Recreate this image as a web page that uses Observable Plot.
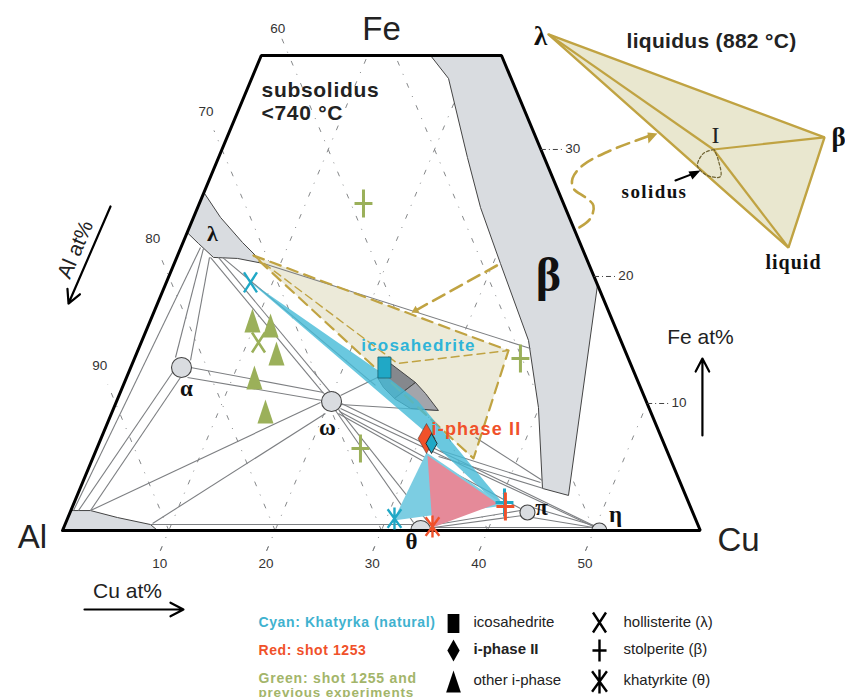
<!DOCTYPE html>
<html><head><meta charset="utf-8">
<script src="https://cdn.jsdelivr.net/npm/d3@7"></script>
<script src="https://cdn.jsdelivr.net/npm/@observablehq/plot@0.6"></script>
<style>html,body{margin:0;padding:0;background:#fff;overflow:hidden}svg{display:block}</style>
</head><body><div id="chart"></div>
<script>
// All compositions are [Cu at%, Fe at%]
const frame = [[0,0],[0,37.4],[22.6,37.4],[60,0],[0,0]];
const betaField = [[15.92,37.4],[18.52,35.59],[23.41,29.37],[26.61,25.43],[30.69,21.02],[36.36,14.96],[39.93,9.69],[43.5,3.31],[46.22,2.76],[40.68,19.29],[22.6,37.4]];
const lambdaField = [[0,26.61],[2.54,24.65],[5.59,22.68],[8.4,21.02],[5.75,21.42],[3.45,21.5],[1.49,22.6],[0,23.46]];
const alField = [[0,0],[0,1.57],[1.85,1.57],[4.66,1.02],[8.04,0.47],[8.94,0]];
const icoDark = [[24.28,13.15],[27.38,11.65],[26.03,10.39],[24.57,11.26],[23.6,12.05]];
const icoLight = [[27.38,11.65],[28.75,10.79],[30.64,9.45],[27.93,9.61],[26.03,10.39]];
const solidusTri = [[7.14,21.65],[34.87,14.17],[35.83,5.67]];
const solidusInner = [[7.14,21.65],[24.94,13.15],[34.87,14.17]];
const cyanBand = [[7.65,19.69],[24.28,12.2],[28.28,10.24],[40.02,2.36],[39.63,2.2],[32.01,6.54],[30.03,7.87]];
const cyanLow = [[31.17,6.14],[30.74,0.79],[40.6,1.97]];
const redTri = [[31.38,5.91],[34.69,0.24],[39.86,2.13]];
const ties = [
 [[0.25,1.57],[1.84,22.28]],[[2.16,22.2],[3.82,13.62]],[[3.08,21.5],[5.35,13.39]],
 [[4.13,12.44],[0.72,1.57]],[[5.07,12.05],[1.85,1.57]],[[5.63,12.83],[19.12,10.87]],
 [[5.73,12.05],[19.34,10.24]],[[1.85,1.57],[19.23,10.08]],[[8.2,0.55],[20.13,9.21]],
 [[3.17,21.5],[19.16,10.79]],[[3.92,21.5],[19.78,10.87]],[[4.3,21.5],[23.73,11.42]],
 [[20.84,10.63],[23.6,12.05]],[[21.19,9.92],[30.55,9.45]],[[21.25,10],[49.98,0.31]],
 [[21.35,9.61],[50.02,0.24]],[[21.37,9.37],[42.22,1.73]],[[21.35,9.21],[39.95,2.13]],
 [[20.96,9.45],[32.7,0.63]],[[21.2,9.53],[33.98,0.71]],[[34.42,0.39],[42.3,1.57]],
 [[34.78,0.24],[42.68,1.18]],[[34.5,0.24],[49.74,0.24]],[[43.31,1.81],[49.76,0.39]],
 [[43.7,1.02],[49.83,0.24]],[[43.08,3.78],[32.41,6.3]],[[43.59,3.31],[32.46,5.83]],
 [[43.18,3.94],[35.19,7.32]],[[8.4,21.02],[36.86,14.33]],[[8.04,0.47],[32.69,0.47]]
];
const phaseCircles = [[4.78,12.83,10],[20.23,10.16,10],[33.7,0,10],[43.03,1.42,7.5],[50.5,0,7.5]];
const cuTicks = [10,20,30,40,50];
const alTicks = [90,80,70,60];
const feTicks = [10,20,30];
const greenTriangles = [[9.6,16.54],[11.5,16.14],[13.16,13.94],[12.03,12.05],[14.41,9.37]];
const greenPlus = [[15.44,25.75],[36.31,13.54],[24.8,6.46]];
const greenX = [[11.04,14.8]];
const cyanX = [[7.92,19.53]];
const icosahedrite = [[23.87,12.83]];
const iPhaseRed = [[30.62,7.24]];
const iPhaseCyan = [[31.29,6.85]];
const stolperiteCyan = [[40.48,2.2]];
const stolperiteRed = [[40.72,1.89]];
const khatyrkiteCyan = [[30.76,0.94]];
const khatyrkiteRed = [[34.65,0.31]];
const leaderLow = [[24.55,17.32],[30.69,21.02]];
const leaderHigh = [[36.7,23.86],[37.38,24.57],[37.15,25.59],[36.09,26.22],[34.6,26.93],[34.12,27.72],[34.55,28.74],[36.59,29.92],[39.76,31.1]];
const leaderHead = [[40.34,31.26],[39.36,31.34],[39.89,30.47]];
const insetTri = [[26.19,39.06],[56.21,30.95],[57.15,22.28]];
const insetI = [46.24,30];
const insetArc = [[46.3,30],[45.45,29.69],[45.36,28.74],[46.11,28.19],[47.02,27.87],[47.96,27.87],[47.14,29.13],[46.3,30]];
const solidusArrow = [[43.88,27.56],[45.3,28.1]];
const solidusHead = [[45.84,28.35],[44.75,28.27],[45.44,27.64]];

const X = d => d[0] + d[1] / 2, Y = d => d[1];
const shut = p => [...p, p[0]];
const gold = "#c0a342", grey = "#7d7f82", fieldGrey = "#d9dce0";
const cyan = "#20a8c6", red = "#f0512a", green = "#9bb05a";

const sym = fn => ({draw(c, size){ const r = Math.sqrt(size / Math.PI); fn(c, r); }});
const poly = (c, pts) => { pts.forEach((p, i) => i ? c.lineTo(p[0], p[1]) : c.moveTo(p[0], p[1])); c.closePath(); };
const seg = (c, a, b, e, f) => { c.moveTo(a, b); c.lineTo(e, f); };
const sRect = sym((c, r) => poly(c, [[-.62*r,-r],[.62*r,-r],[.62*r,r],[-.62*r,r]]));
const sDiamond = sym((c, r) => poly(c, [[0,-r],[.56*r,0],[0,r],[-.56*r,0]]));
const sTri = sym((c, r) => poly(c, [[0,-r],[.67*r,r],[-.67*r,r]]));
const sPlus = sym((c, r) => { seg(c, 0,-r,0,r); seg(c,-.64*r,0,.64*r,0); });
const sX = sym((c, r) => { seg(c,-.65*r,-r,.65*r,r); seg(c,.65*r,-r,-.65*r,r); });
const sAst = sym((c, r) => { seg(c,0,-r,0,r); seg(c,-.62*r,-.85*r,.62*r,.85*r); seg(c,.62*r,-.85*r,-.62*r,.85*r); });

const T = (text, px, py, o = {}) => Plot.text([text], {text: d => d, frameAnchor: "top-left", dx: px, dy: py,
  textAnchor: "middle", lineAnchor: "middle", fontFamily: "Liberation Sans", fill: "#222", ...o});
const G = (px, py, s, r, o) => Plot.dot([0], {frameAnchor: "top-left", dx: px, dy: py, symbol: s, r, ...o});
const serif = {fontFamily: "Liberation Serif", fontWeight: "bold", fill: "#111"};
const shape = (p, o) => Plot.line(p, {x: X, y: Y, ...o});
const links = (d, o) => Plot.link(d, {x1: s => X(s[0]), y1: s => Y(s[0]), x2: s => X(s[1]), y2: s => Y(s[1]), ...o});
const marker = (d, s, r, o) => Plot.dot(d, {x: X, y: Y, symbol: s, r, ...o});

const cuGrid = cuTicks.map(c => [[c, -1.6], [c, Math.min(37.4, 60 - c)]]);
const alGrid = cuTicks.map(c => { const f = Math.min(c + 1.5, c >= 40 ? 39 : 99); return [[c, 0], c === 50 ? [12.6, 37.4] : [c - f, f]]; });

const svg = Plot.plot({
  width: 845, height: 697, margin: 0,
  x: {domain: [-5.833, 73.66], range: [0, 845], axis: null},
  y: {domain: [41.73, -13.15], range: [0, 697], axis: null},
  r: {type: "identity"},
  style: {background: "#fff"},
  marks: [
    links([...cuGrid, ...alGrid], {stroke: "#77797c", strokeWidth: 0.9, strokeDasharray: "5 9 1 9"}),
    shape(shut(betaField), {fill: fieldGrey, stroke: "#444", strokeWidth: 1}),
    shape(shut(lambdaField), {fill: fieldGrey, stroke: "#444", strokeWidth: 1}),
    shape(shut(alField), {fill: fieldGrey, stroke: "#444", strokeWidth: 1}),
    shape(shut(solidusTri), {fill: "#ecead9"}),
    links(ties, {stroke: grey, strokeWidth: 1.1}),
    shape(shut(icoDark), {fill: "#85888d", stroke: "#444", strokeWidth: 1}),
    shape(shut(icoLight), {fill: "#a3a5ab", stroke: "#444", strokeWidth: 1}),
    shape(solidusInner, {stroke: gold, strokeWidth: 1.4, strokeDasharray: "8 5"}),
    shape(shut(solidusTri), {stroke: gold, strokeWidth: 2.2, strokeDasharray: "11 7"}),
    shape(leaderLow, {stroke: gold, strokeWidth: 2.6, strokeDasharray: "13 7"}),
    Plot.dot([leaderLow[0]], {x: X, y: Y, symbol: "triangle", r: 3, fill: gold}),
    shape(leaderHigh, {stroke: gold, strokeWidth: 2.6, strokeDasharray: "13 7", curve: "catmull-rom"}),
    shape(leaderHead, {fill: gold}),
    shape(shut(cyanBand), {fill: "#45bad7", fillOpacity: 0.8}),
    shape(shut(cyanLow), {fill: "#7ccde2"}),
    shape(shut(redTri), {fill: "#e58a99"}),
    Plot.dot(phaseCircles, {x: X, y: Y, r: d => d[2], fill: fieldGrey, stroke: "#444", strokeWidth: 1.1}),
    Plot.rectY([0], {x1: -5.8, x2: 73.6, y1: -0.02, y2: -1.3, fill: "#fff"}),
    links(cuGrid.map(l => [l[0], [l[0][0], 0]]), {stroke: "#77797c", strokeWidth: 0.9, strokeDasharray: "5 9 1 9"}),
    shape(frame, {stroke: "#000", strokeWidth: 3, strokeLinejoin: "miter"}),

    marker(greenTriangles, sTri, 12, {fill: green}),
    marker(greenPlus, sPlus, 14, {stroke: green, strokeWidth: 3, fill: "none"}),
    marker(greenX, sX, 10, {stroke: green, strokeWidth: 2.6, fill: "none"}),
    marker(cyanX, sX, 10, {stroke: cyan, strokeWidth: 2.4, fill: "none"}),
    marker(icosahedrite, sRect, 10.5, {fill: cyan, stroke: "#1a5f70", strokeWidth: 0.8}),
    marker(iPhaseRed, sDiamond, 15, {fill: red, stroke: "#333", strokeWidth: 0.5}),
    marker(iPhaseCyan, sDiamond, 10, {fill: cyan, stroke: "#222", strokeWidth: 0.9}),
    marker(stolperiteCyan, sPlus, 14, {stroke: cyan, strokeWidth: 3, fill: "none"}),
    marker(stolperiteRed, sPlus, 14, {stroke: red, strokeWidth: 3, fill: "none"}),
    marker(khatyrkiteCyan, sAst, 11, {stroke: cyan, strokeWidth: 2.4, fill: "none"}),
    marker(khatyrkiteRed, sAst, 11, {stroke: red, strokeWidth: 2.4, fill: "none"}),

    // inset
    shape(shut(insetTri), {fill: "#e9e7cf", stroke: gold, strokeWidth: 2.4, strokeLinejoin: "miter"}),
    links(insetTri.map(p => [insetI, p]), {stroke: gold, strokeWidth: 2.2}),
    shape(insetArc, {stroke: "#6e6232", strokeWidth: 1.2, strokeDasharray: "3 2", curve: "catmull-rom"}),
    shape(solidusArrow, {stroke: "#000", strokeWidth: 2}),
    shape(solidusHead, {fill: "#000"}),

    // axis ticks
    links(feTicks.map(f => [[60 - f, f], [62 - f, f]]), {stroke: "#444", strokeWidth: 1, strokeDasharray: "5 3 1 3"}),
    Plot.text(cuTicks, {x: d => d - 0.85, y: -2.6, text: d => String(d), fontFamily: "Liberation Sans", fontSize: 13.5, fill: "#333"}),
    Plot.text(alTicks, {x: d => { const f = Math.min(103 - d, 39.5); return 100 - d - f + f / 2; }, y: d => Math.min(103 - d, 39.5), text: d => String(d), fontFamily: "Liberation Sans", fontSize: 13.5, fill: "#333"}),
    Plot.text(feTicks, {x: d => 60 - d + d / 2 + 3, y: d => d + 0.1, text: d => String(d), fontFamily: "Liberation Sans", fontSize: 13.5, fill: "#333"}),

    // direction arrows
    Plot.arrow([[[-8.24,25.51],[-8.37,17.87]],[[56.46,7.48],[53.43,13.54]],[[5.18,-6.22],[14.49,-6.22]]], {
      x1: s => X(s[0]), y1: s => Y(s[0]), x2: s => X(s[1]), y2: s => Y(s[1]), stroke: "#000", strokeWidth: 2.2, headLength: 10, headAngle: 55}),

    T("Fe", 381, 29, {fontSize: 33}), T("Al", 32, 537, {fontSize: 33}), T("Cu", 738, 540, {fontSize: 33}),
    T("subsolidus", 261, 90, {textAnchor: "start", fontSize: 21, fontWeight: "bold"}),
    T("<740 °C", 261, 113, {textAnchor: "start", fontSize: 21, fontWeight: "bold"}),
    T("liquidus (882 °C)", 711, 41, {fontSize: 21, fontWeight: "bold"}),
    T("λ", 540, 36, {...serif, fontSize: 27}), T("β", 838, 137, {...serif, fontSize: 27}),
    T("β", 548, 275, {...serif, fontSize: 48}), T("λ", 212, 233, {...serif, fontSize: 22}),
    T("α", 186, 388, {...serif, fontSize: 23}), T("ω", 327, 427, {...serif, fontSize: 23}),
    T("θ", 411, 541, {...serif, fontSize: 23}), T("π", 541, 507, {...serif, fontSize: 23}), T("η", 615, 514, {...serif, fontSize: 23}),
    T("solidus", 654, 191, {...serif, fontSize: 19}), T("liquid", 793, 262, {...serif, fontSize: 20}),
    T("I", 715, 135, {fontFamily: "Liberation Serif", fontSize: 24, fill: "#222"}),
    T("icosahedrite", 418, 345, {fontSize: 17, fontWeight: "bold", fill: "#2fb4d8"}),
    T("i-phase II", 476, 429, {fontSize: 18, fontWeight: "bold", fill: red}),
    T("Al at%", 75, 249, {fontSize: 21, rotate: -67}),
    T("Fe at%", 700, 337, {fontSize: 21}), T("Cu at%", 127, 591, {fontSize: 21}),

    // legend
    T("Cyan: Khatyrka (natural)", 258, 622, {textAnchor: "start", fontSize: 14, fontWeight: "bold", fill: "#3fb2cf"}),
    T("Red: shot 1253", 258, 650, {textAnchor: "start", fontSize: 14, fontWeight: "bold", fill: red}),
    T("Green: shot 1255 and", 258, 678, {textAnchor: "start", fontSize: 14, fontWeight: "bold", fill: "#a3b56a"}),
    T("previous experiments", 258, 692, {textAnchor: "start", fontSize: 13.5, fontWeight: "bold", fill: "#a3b56a"}),
    T("icosahedrite", 473, 622, {textAnchor: "start", fontSize: 15}),
    T("i-phase II", 473, 649, {textAnchor: "start", fontSize: 15, fontWeight: "bold"}),
    T("other i-phase", 473, 680, {textAnchor: "start", fontSize: 15}),
    T("hollisterite (λ)", 623, 622, {textAnchor: "start", fontSize: 15}),
    T("stolperite (β)", 623, 649, {textAnchor: "start", fontSize: 15}),
    T("khatyrkite (θ)", 623, 680, {textAnchor: "start", fontSize: 15}),
    G(453, 623, sRect, 9.5, {fill: "#000"}),
    G(453, 650, sDiamond, 11, {fill: "#000"}),
    G(453, 681, sTri, 11, {fill: "#000"}),
    G(599, 622, sX, 10, {stroke: "#000", strokeWidth: 2.4, fill: "none"}),
    G(599, 650, sPlus, 11, {stroke: "#000", strokeWidth: 2.4, fill: "none"}),
    G(599, 681, sAst, 12, {stroke: "#000", strokeWidth: 2.4, fill: "none"})
  ]
});
const spacing = {"subsolidus": 0.7, "<740 °C": 0.7, "liquidus (882 °C)": 0.3, "solidus": 1.4, "liquid": 1, "icosahedrite": 1.2,
  "i-phase II": 1.2, "Cyan: Khatyrka (natural)": 0.6, "Red: shot 1253": 0.6, "Green: shot 1255 and": 0.8, "previous experiments": 0.8};
d3.select(svg).selectAll("text").each(function(){
  const t = this.textContent, s = spacing[t];
  const fs = parseFloat(this.parentNode.getAttribute("font-size"));
  if (s && fs !== 15) this.setAttribute("letter-spacing", s);
});
document.getElementById("chart").append(svg);
</script></body></html>
